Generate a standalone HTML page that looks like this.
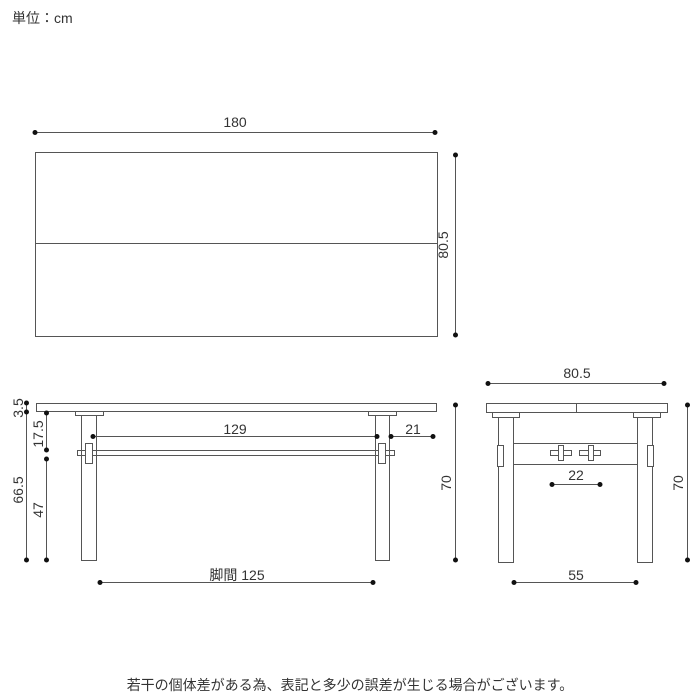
<!DOCTYPE html>
<html><head><meta charset="utf-8"><style>
html,body{margin:0;padding:0;background:#fff;}
svg{display:block;}
text{font-family:"Liberation Sans","Noto Sans CJK JP",sans-serif;fill:#333;}
</style></head><body>
<svg width="700" height="700" viewBox="0 0 700 700" xmlns="http://www.w3.org/2000/svg">
<g stroke="#555" stroke-width="1" fill="none">
<rect x="35.5" y="152.5" width="402" height="184"/>
<line x1="35" y1="243.5" x2="437" y2="243.5"/>
<line x1="35" y1="132.5" x2="435" y2="132.5"/>
<line x1="455.5" y1="155" x2="455.5" y2="335"/>
<rect x="36.5" y="403.5" width="400" height="8"/>
<rect x="75.5" y="411.5" width="28" height="4"/>
<rect x="368.5" y="411.5" width="28" height="4"/>
<rect x="81.5" y="415.5" width="15" height="145"/>
<rect x="375.5" y="415.5" width="14" height="145"/>
<rect x="77.5" y="450.5" width="317" height="5"/>
<rect x="85.5" y="443.5" width="7" height="20" fill="#fff"/>
<rect x="378.5" y="443.5" width="7" height="20" fill="#fff"/>
<line x1="93" y1="436.5" x2="377" y2="436.5"/>
<line x1="391" y1="436.5" x2="433" y2="436.5"/>
<line x1="26.5" y1="403" x2="26.5" y2="560"/>
<line x1="46.5" y1="413" x2="46.5" y2="450"/>
<line x1="46.5" y1="459" x2="46.5" y2="560"/>
<line x1="455.5" y1="405" x2="455.5" y2="560"/>
<line x1="100" y1="582.5" x2="373" y2="582.5"/>
<line x1="488" y1="383.5" x2="664" y2="383.5"/>
<rect x="486.5" y="403.5" width="181" height="9"/>
<line x1="576.5" y1="403" x2="576.5" y2="412"/>
<rect x="492.5" y="412.5" width="27" height="5"/>
<rect x="633.5" y="412.5" width="27" height="5"/>
<rect x="498.5" y="417.5" width="15" height="145"/>
<rect x="637.5" y="417.5" width="15" height="145"/>
<rect x="513.5" y="443.5" width="124" height="21"/>
<rect x="497.5" y="445.5" width="6" height="21" fill="#fff"/>
<rect x="647.5" y="445.5" width="6" height="21" fill="#fff"/>
<rect x="550.5" y="450.5" width="21" height="5"/>
<rect x="558.5" y="445.5" width="5" height="15" fill="#fff"/>
<rect x="579.5" y="450.5" width="21" height="5"/>
<rect x="588.5" y="445.5" width="5" height="15" fill="#fff"/>
<line x1="552" y1="484.5" x2="600" y2="484.5"/>
<line x1="514" y1="582.5" x2="636" y2="582.5"/>
<line x1="687.5" y1="405" x2="687.5" y2="560"/>
</g>
<g fill="#111">
<circle cx="35" cy="132.5" r="2.5"/><circle cx="435" cy="132.5" r="2.5"/>
<circle cx="455.5" cy="155" r="2.5"/><circle cx="455.5" cy="335" r="2.5"/>
<circle cx="93" cy="436.5" r="2.5"/><circle cx="377" cy="436.5" r="2.5"/>
<circle cx="391" cy="436.5" r="2.5"/><circle cx="433" cy="436.5" r="2.5"/>
<circle cx="26.5" cy="403" r="2.5"/><circle cx="26.5" cy="412" r="2.5"/><circle cx="26.5" cy="560" r="2.5"/>
<circle cx="46.5" cy="413" r="2.5"/><circle cx="46.5" cy="450" r="2.5"/><circle cx="46.5" cy="459" r="2.5"/><circle cx="46.5" cy="560" r="2.5"/>
<circle cx="455.5" cy="405" r="2.5"/><circle cx="455.5" cy="560" r="2.5"/>
<circle cx="100" cy="582.5" r="2.5"/><circle cx="373" cy="582.5" r="2.5"/>
<circle cx="488" cy="383.5" r="2.5"/><circle cx="664" cy="383.5" r="2.5"/>
<circle cx="552" cy="484.5" r="2.5"/><circle cx="600" cy="484.5" r="2.5"/>
<circle cx="514" cy="582.5" r="2.5"/><circle cx="636" cy="582.5" r="2.5"/>
<circle cx="687.5" cy="405" r="2.5"/><circle cx="687.5" cy="560" r="2.5"/>
</g>
<g font-size="14">
<text x="12" y="23">単位：cm</text>
<text x="235" y="132" text-anchor="middle" dy="-5">180</text>
<text transform="translate(448,245) rotate(-90)" text-anchor="middle">80.5</text>
<text x="235" y="434" text-anchor="middle">129</text>
<text x="413" y="434" text-anchor="middle">21</text>
<text transform="translate(23,408) rotate(-90)" text-anchor="middle">3.5</text>
<text transform="translate(23,490) rotate(-90)" text-anchor="middle">66.5</text>
<text transform="translate(43,434) rotate(-90)" text-anchor="middle">17.5</text>
<text transform="translate(43,510) rotate(-90)" text-anchor="middle">47</text>
<text transform="translate(451,483) rotate(-90)" text-anchor="middle">70</text>
<text x="237" y="580" text-anchor="middle">脚間 125</text>
<text x="577" y="378" text-anchor="middle">80.5</text>
<text x="576" y="480" text-anchor="middle">22</text>
<text x="576" y="580" text-anchor="middle">55</text>
<text transform="translate(683,483) rotate(-90)" text-anchor="middle">70</text>
<text x="350" y="690" text-anchor="middle" font-size="14">若干の個体差がある為、表記と多少の誤差が生じる場合がございます。</text>
</g>
</svg>
</body></html>
